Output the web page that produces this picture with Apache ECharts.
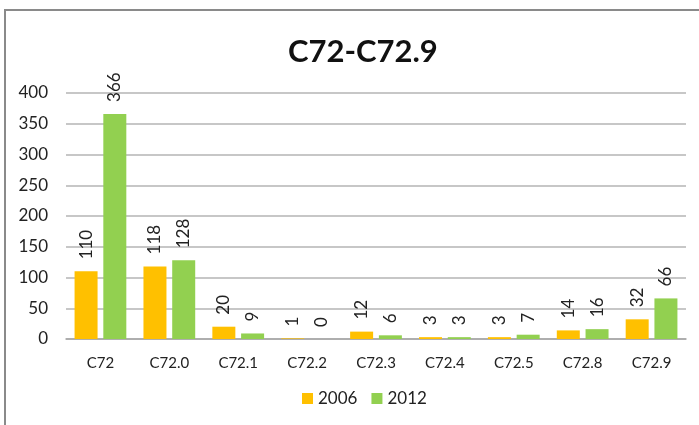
<!DOCTYPE html>
<html>
<head>
<meta charset="utf-8">
<script src="https://cdn.jsdelivr.net/npm/echarts@6/dist/echarts.min.js"></script>
<style>
  html, body { margin: 0; padding: 0; background: #fff; }
  #chart { width: 699px; height: 425px; }
</style>
</head>
<body>
<div id="chart"></div>
<script>
var categories = ['C72', 'C72.0', 'C72.1', 'C72.2', 'C72.3', 'C72.4', 'C72.5', 'C72.8', 'C72.9'];
var values2006 = [110, 118, 20, 1, 12, 3, 3, 14, 32];
var values2012 = [366, 128, 9, 0, 6, 3, 7, 16, 66];
var yTicks = [0, 50, 100, 150, 200, 250, 300, 350, 400];

var chart = echarts.init(document.getElementById('chart'));

var font = 'Lato, "Open Sans", sans-serif';

var barLabel = {
    show: true,
    position: 'top',
    rotate: 90,
    align: 'left',
    verticalAlign: 'middle',
    distance: 12,
    color: '#222',
    fontFamily: font,
    fontSize: 17
};

option = {
    animation: false,
    textStyle: { fontFamily: font },
    title: {
        text: 'C72-C72.9',
        left: 283,
        top: 31,
        textStyle: {
            fontFamily: font,
            fontSize: 31,
            fontWeight: 'bold',
            color: '#111'
        }
    },
    graphic: [{
        type: 'rect',
        shape: { x: 5, y: 10, width: 720, height: 440 },
        style: { fill: 'none', stroke: '#8a8a8a', lineWidth: 2 }
    }],
    legend: {
        bottom: 13,
        left: 297,
        itemWidth: 11,
        itemHeight: 11,
        itemGap: 14,
        icon: 'rect',
        textStyle: { fontFamily: font, fontSize: 17, color: '#222' },
        data: ['2006', '2012']
    },
    grid: {
        left: 66,
        right: 13,
        top: 93,
        bottom: 86
    },
    xAxis: {
        type: 'category',
        data: categories,
        axisTick: { show: false },
        axisLine: { lineStyle: { color: '#a6a6a6', width: 1.5 } },
        axisLabel: {
            color: '#222',
            fontFamily: font,
            fontSize: 15,
            margin: 17
        }
    },
    yAxis: {
        type: 'value',
        min: yTicks[0],
        max: yTicks[yTicks.length - 1],
        interval: 50,
        axisLine: { show: false },
        axisTick: { show: false },
        splitLine: { lineStyle: { color: '#b4b4b4', width: 1.5 } },
        axisLabel: {
            color: '#222',
            fontFamily: font,
            fontSize: 17,
            margin: 18
        }
    },
    series: [{
        name: '2006',
        type: 'bar',
        data: values2006,
        barWidth: 23,
        barGap: '25%',
        itemStyle: { color: '#FFC000' },
        label: barLabel
    }, {
        name: '2012',
        type: 'bar',
        data: values2012,
        barWidth: 23,
        itemStyle: { color: '#92D050' },
        label: barLabel
    }]
};
chart.setOption(option);
</script>
</body>
</html>
